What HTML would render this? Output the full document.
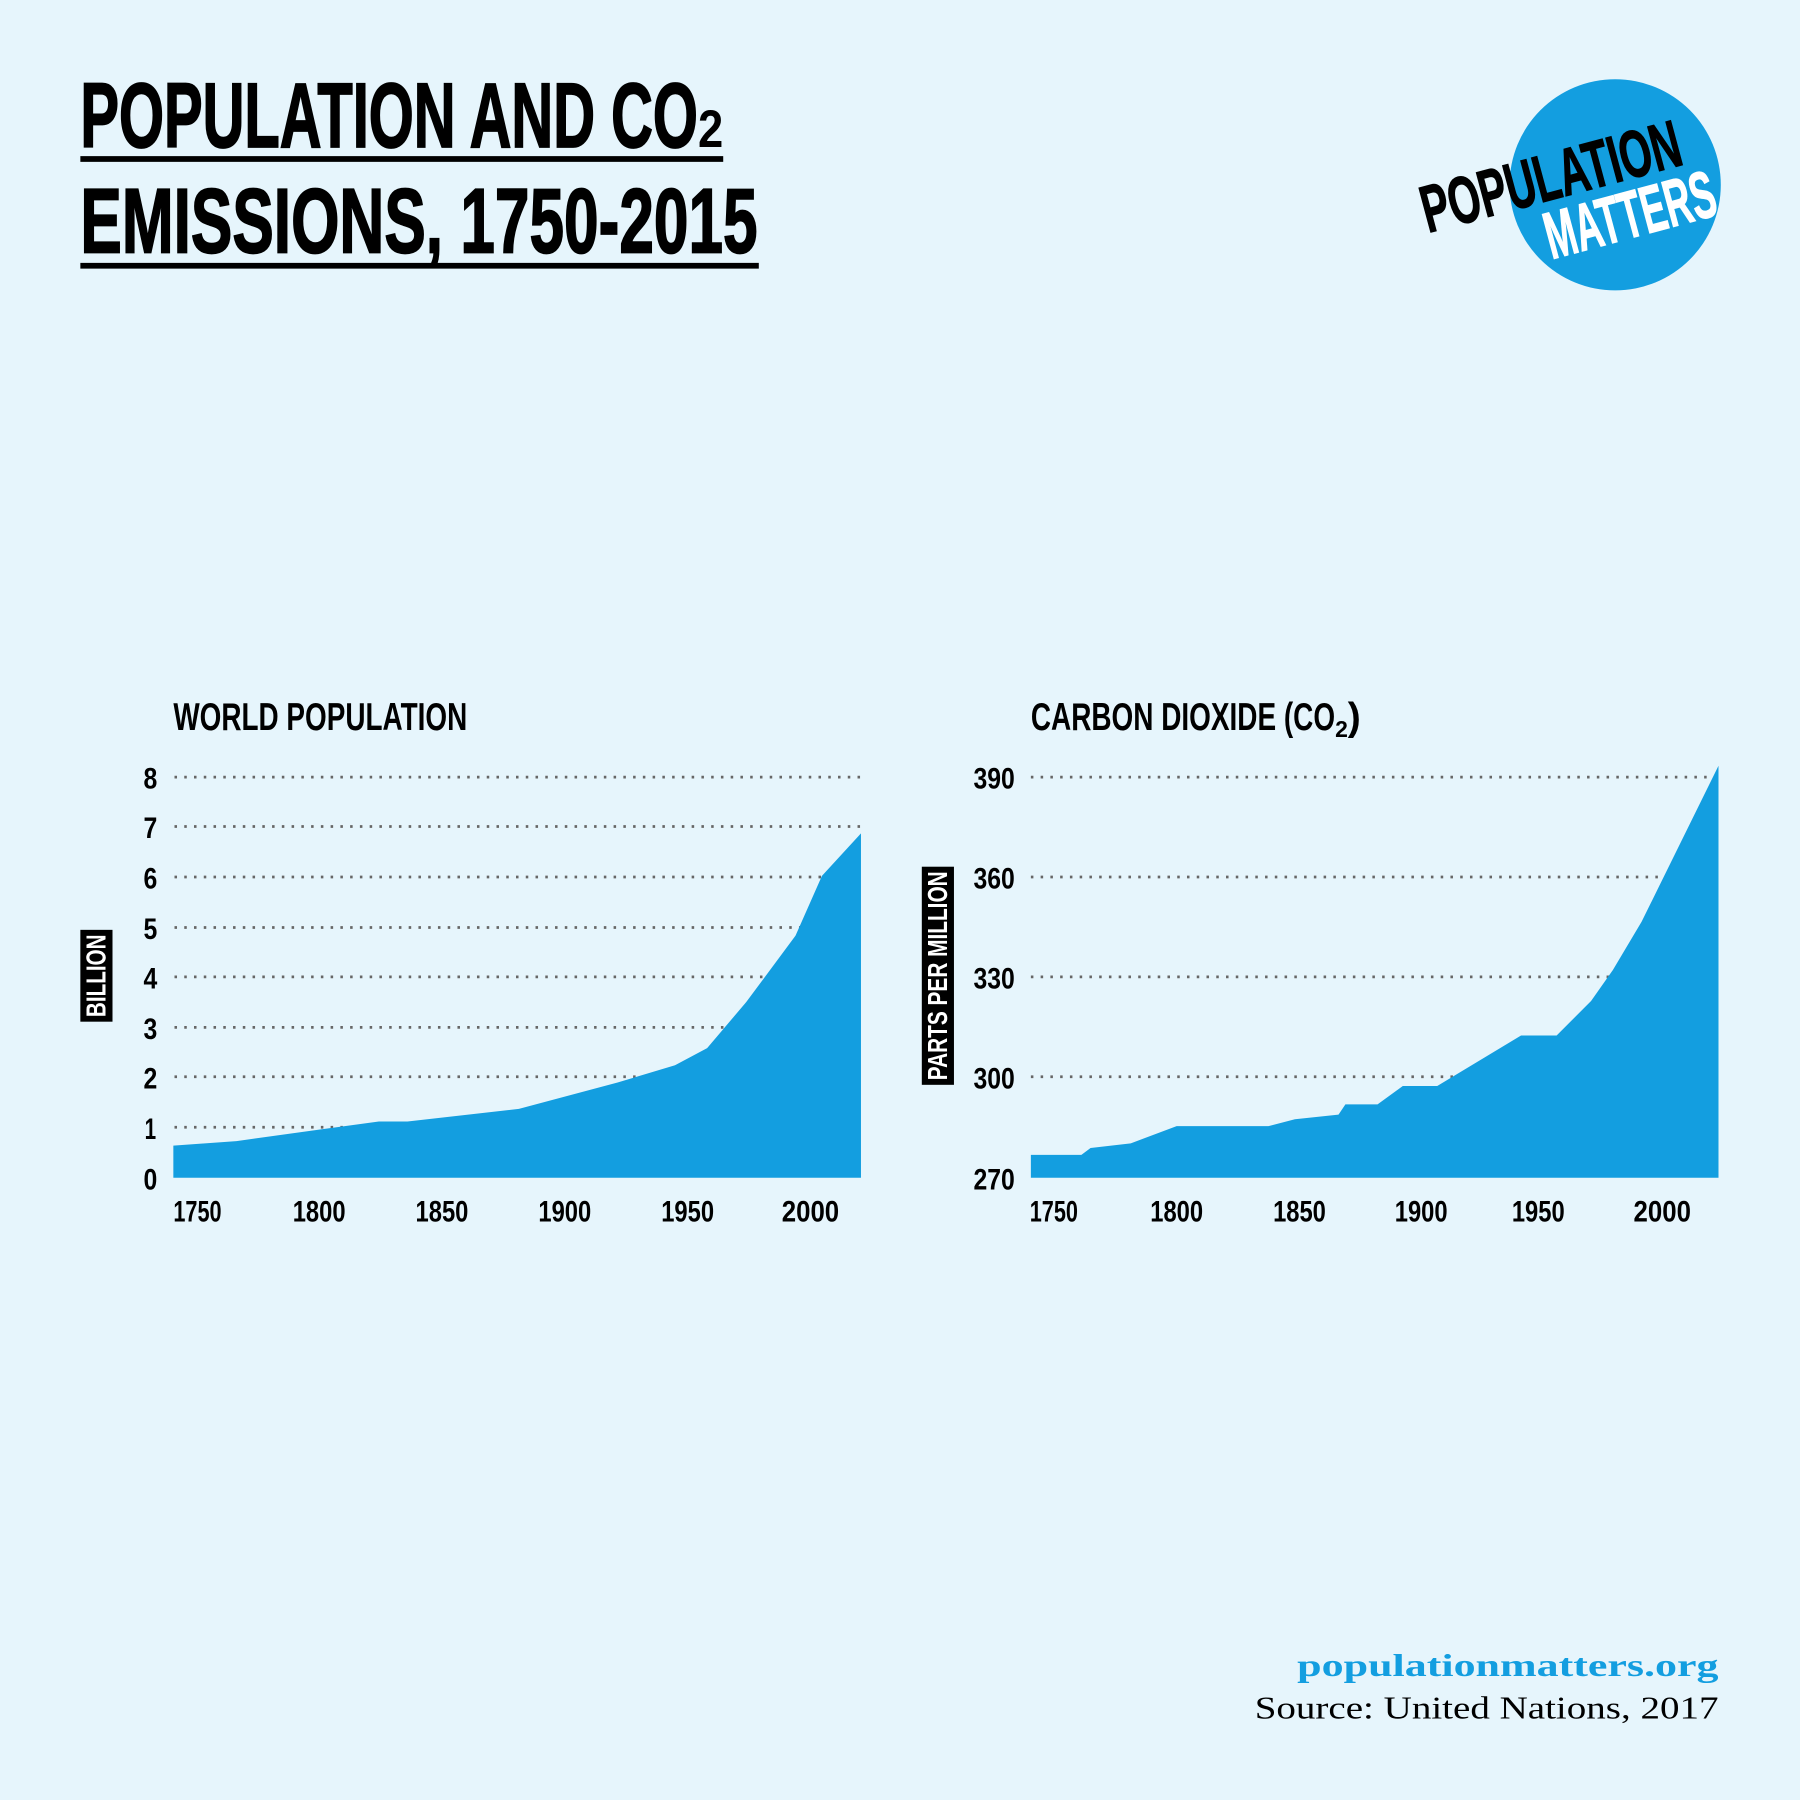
<!DOCTYPE html>
<html><head><meta charset="utf-8"><style>
html,body{margin:0;padding:0;background:#e6f5fc;}
svg{display:block}
text{font-family:"Liberation Sans Narrow","Liberation Sans",sans-serif;font-weight:bold;}
</style></head><body>
<svg width="1800" height="1800" viewBox="0 0 1568 1568" xmlns="http://www.w3.org/2000/svg">
<rect width="1568" height="1568" fill="#e6f5fc"/>
<text x="70" y="128" font-size="80" textLength="538" lengthAdjust="spacingAndGlyphs" fill="#000" stroke="#000" stroke-width="1.5">POPULATION AND CO</text>
<text x="608" y="128" font-size="46" textLength="22" lengthAdjust="spacingAndGlyphs" fill="#000">2</text>
<rect x="70" y="136" width="560" height="5" fill="#000"/>
<text x="70" y="220" font-size="80" textLength="590" lengthAdjust="spacingAndGlyphs" fill="#000" stroke="#000" stroke-width="1.5">EMISSIONS, 1750-2015</text>
<rect x="70" y="229" width="591" height="5" fill="#000"/>
<circle cx="1407" cy="161" r="92" fill="#139ee0"/>
<g transform="translate(1244,203) rotate(-15)">
<text x="0" y="0" font-size="58" textLength="232" lengthAdjust="spacingAndGlyphs" fill="#000" stroke="#000" stroke-width="1">POPULATION</text>
<text x="98" y="50" font-size="58" textLength="152" lengthAdjust="spacingAndGlyphs" fill="#fff" stroke="#fff" stroke-width="1">MATTERS</text>
</g>
<text x="151" y="636" font-size="34" textLength="256" lengthAdjust="spacingAndGlyphs">WORLD POPULATION</text>
<g stroke="#666" stroke-width="2.4" stroke-dasharray="2.2 6.3">
<line x1="152" y1="677" x2="752" y2="677"/><line x1="152" y1="720" x2="752" y2="720"/>
<line x1="152" y1="764" x2="752" y2="764"/><line x1="152" y1="808" x2="752" y2="808"/>
<line x1="152" y1="851" x2="752" y2="851"/><line x1="152" y1="895" x2="752" y2="895"/>
<line x1="152" y1="938" x2="752" y2="938"/><line x1="152" y1="982" x2="752" y2="982"/>
</g>
<polygon fill="#139ee0" points="151,998 206,994 278,984 330,977 355,977 452,966 538,943 588,928 616,913 650,873 693,815 716,763 750,726 750,1026 151,1026"/>
<g font-size="26" text-anchor="middle">
<text x="131" y="687" textLength="12" lengthAdjust="spacingAndGlyphs">8</text><text x="131" y="730" textLength="12" lengthAdjust="spacingAndGlyphs">7</text><text x="131" y="774" textLength="12" lengthAdjust="spacingAndGlyphs">6</text><text x="131" y="818" textLength="12" lengthAdjust="spacingAndGlyphs">5</text>
<text x="131" y="861" textLength="12" lengthAdjust="spacingAndGlyphs">4</text><text x="131" y="905" textLength="12" lengthAdjust="spacingAndGlyphs">3</text><text x="131" y="948" textLength="12" lengthAdjust="spacingAndGlyphs">2</text><text x="131" y="992" textLength="10" lengthAdjust="spacingAndGlyphs">1</text><text x="131" y="1036" textLength="12" lengthAdjust="spacingAndGlyphs">0</text>
<text x="172" y="1064" textLength="42" lengthAdjust="spacingAndGlyphs">1750</text><text x="278" y="1064" textLength="46" lengthAdjust="spacingAndGlyphs">1800</text><text x="385" y="1064" textLength="46" lengthAdjust="spacingAndGlyphs">1850</text>
<text x="492" y="1064" textLength="46" lengthAdjust="spacingAndGlyphs">1900</text><text x="599" y="1064" textLength="46" lengthAdjust="spacingAndGlyphs">1950</text><text x="706" y="1064" textLength="50" lengthAdjust="spacingAndGlyphs">2000</text>
</g>
<rect x="70" y="810" width="28" height="80" fill="#000"/>
<text transform="translate(92,886) rotate(-90)" font-size="24" fill="#fff" textLength="72" lengthAdjust="spacingAndGlyphs">BILLION</text>
<text x="898" y="636" font-size="34" textLength="265" lengthAdjust="spacingAndGlyphs">CARBON DIOXIDE (CO</text>
<text x="1163" y="642" font-size="20">2</text>
<text x="1174" y="636" font-size="34">)</text>
<g stroke="#666" stroke-width="2.4" stroke-dasharray="2.2 6.3">
<line x1="898" y1="677" x2="1497" y2="677"/><line x1="898" y1="764" x2="1497" y2="764"/>
<line x1="898" y1="851" x2="1497" y2="851"/><line x1="898" y1="938" x2="1497" y2="938"/>
</g>
<polygon fill="#139ee0" points="898,1006 942,1006 950,1000 985,996 1025,981 1105,981 1128,975 1166,971 1172,962 1200,962 1222,946 1252,946 1325,902 1356,902 1386,872 1405,845 1430,803 1497,667 1497,1026 898,1026"/>
<g font-size="26" text-anchor="middle">
<text x="866" y="687" textLength="36" lengthAdjust="spacingAndGlyphs">390</text><text x="866" y="774" textLength="36" lengthAdjust="spacingAndGlyphs">360</text><text x="866" y="861" textLength="36" lengthAdjust="spacingAndGlyphs">330</text>
<text x="866" y="948" textLength="36" lengthAdjust="spacingAndGlyphs">300</text><text x="866" y="1036" textLength="36" lengthAdjust="spacingAndGlyphs">270</text>
<text x="918" y="1064" textLength="42" lengthAdjust="spacingAndGlyphs">1750</text><text x="1025" y="1064" textLength="46" lengthAdjust="spacingAndGlyphs">1800</text><text x="1132" y="1064" textLength="46" lengthAdjust="spacingAndGlyphs">1850</text>
<text x="1238" y="1064" textLength="46" lengthAdjust="spacingAndGlyphs">1900</text><text x="1340" y="1064" textLength="46" lengthAdjust="spacingAndGlyphs">1950</text><text x="1448" y="1064" textLength="50" lengthAdjust="spacingAndGlyphs">2000</text>
</g>
<rect x="803" y="755" width="28" height="190" fill="#000"/>
<text transform="translate(825,941) rotate(-90)" font-size="24" fill="#fff" textLength="182" lengthAdjust="spacingAndGlyphs">PARTS PER MILLION</text>
<text x="1130" y="1460" font-size="28" fill="#139ee0" textLength="367" lengthAdjust="spacingAndGlyphs" style="font-family:'Liberation Serif',serif;font-weight:bold">populationmatters.org</text>
<text x="1093" y="1497" font-size="28" fill="#000" textLength="404" lengthAdjust="spacingAndGlyphs" style="font-family:'Liberation Serif',serif;font-weight:normal">Source: United Nations, 2017</text>
</svg>
</body></html>
